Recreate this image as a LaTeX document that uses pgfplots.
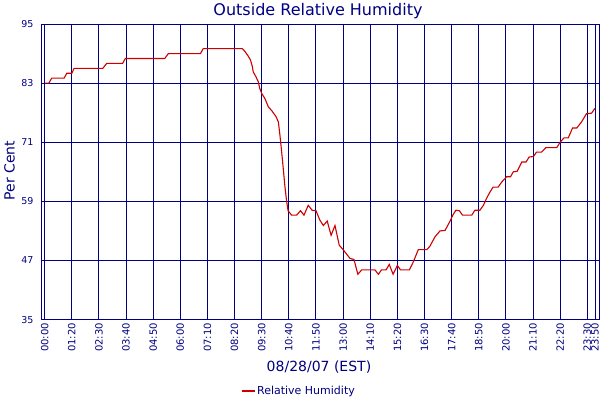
\documentclass[border=0pt]{standalone}
\usepackage{pgfplots}
\pgfplotsset{compat=1.18}
\usepackage{fontspec}
\setmainfont{DejaVu Sans}
\definecolor{navy}{RGB}{0,0,128}
\definecolor{rhred}{RGB}{204,0,0}

% x in minutes on the chart's own (equal-spaced) tick scale
\pgfplotstableread{
t   rh
0    83
11   83
18   84
50   84
57   85
70   85
76   86
150  86
160  87
201  87
208  88
310  88
319  89
402  89
409  90
510  90
517  89.4
525  88.5
531  87.7
536  86.3
538  85.3
545  84.3
551  83.3
555  81.9
560  80.9
568  79.9
577  78.2
586  77.4
597  76.2
603  75.1
607  72.4
611  69.4
616  65.3
620  61.9
624  59.2
628  57.1
637  56.2
650  56.2
660  57.1
669  56.2
680  58.2
690  57.2
700  57.1
710  55.2
719  54.1
729  55.0
739  52.1
749  54.1
760  50.1
770  49.2
788  47.4
798  47.2
808  44.2
818  45.1
852  45.1
861  44.2
869  45.1
881  45.1
889  46.2
899  44.2
910  46.0
918  45.1
941  45.1
951  46.7
964  49.2
986  49.2
994  49.9
1007 51.8
1020 53.0
1033 53.1
1046 55.0
1053 56.2
1061 57.2
1070 57.1
1078 56.2
1102 56.2
1110 57.2
1123 57.2
1132 58.2
1140 59.6
1149 60.9
1157 61.9
1170 61.9
1179 62.9
1192 64.0
1202 64.0
1209 65.0
1219 65.1
1231 67.0
1242 67.0
1250 68.0
1261 68.1
1269 69.0
1282 69.0
1293 69.9
1321 69.9
1331 71.1
1340 71.9
1351 71.9
1362 73.9
1373 73.9
1385 75.1
1398 76.8
1411 76.9
1420 77.9
}\rhdata

\begin{document}
\begin{tikzpicture}[x=1pt,y=1pt]
\path[use as bounding box] (0,0) rectangle (600,400);
\begin{axis}[
  at={(41pt,80.4pt)}, anchor=south west,
  scale only axis, width=558.3pt, height=295.6pt,
  xmin=-9.5, xmax=1431, ymin=35, ymax=95,
  xtick={0,70,140,210,280,350,420,490,560,630,700,770,840,910,980,1050,1120,1190,1260,1330,1400,1420},
  xticklabels={00:00,01:20,02:30,03:40,04:50,06:00,07:10,08:20,09:30,10:40,11:50,13:00,14:10,15:20,16:30,17:40,18:50,20:00,21:10,22:20,23:30,23:50},
  ytick={35,47,59,71,83,95},
  grid=major,
  major grid style={navy, line width=1pt},
  axis line style={navy, line width=1pt},
  major tick length=0pt,
  tick label style={text=navy},
  /pgf/number format/assume math mode=true,
  x tick label style={rotate=90, anchor=east, font=\fontsize{10}{12}\selectfont},
  y tick label style={font=\fontsize{9.5}{11}\selectfont, xshift=-4pt},
  legend style={draw=none, fill=none, at={(0.462,-0.2415)}, anchor=center,
    font=\fontsize{11}{13}\selectfont, text=navy, inner sep=0pt},
  legend image code/.code={\draw[#1] (0pt,0pt) -- (13pt,0pt);},
]
\addplot[rhred, line width=1.1pt] table[x=t, y=rh] {\rhdata};
\addlegendentry{Relative Humidity}
\end{axis}
\node[text=navy, font=\fontsize{16}{19}\selectfont, anchor=base] at (318,384) {Outside Relative Humidity};
\node[text=navy, font=\fontsize{14}{17}\selectfont, anchor=base] at (319,29) {08/28/07 (EST)};
\node[text=navy, font=\fontsize{14}{17}\selectfont, rotate=90, anchor=base] at (14.5,229.5) {Per Cent};
\end{tikzpicture}
\end{document}
